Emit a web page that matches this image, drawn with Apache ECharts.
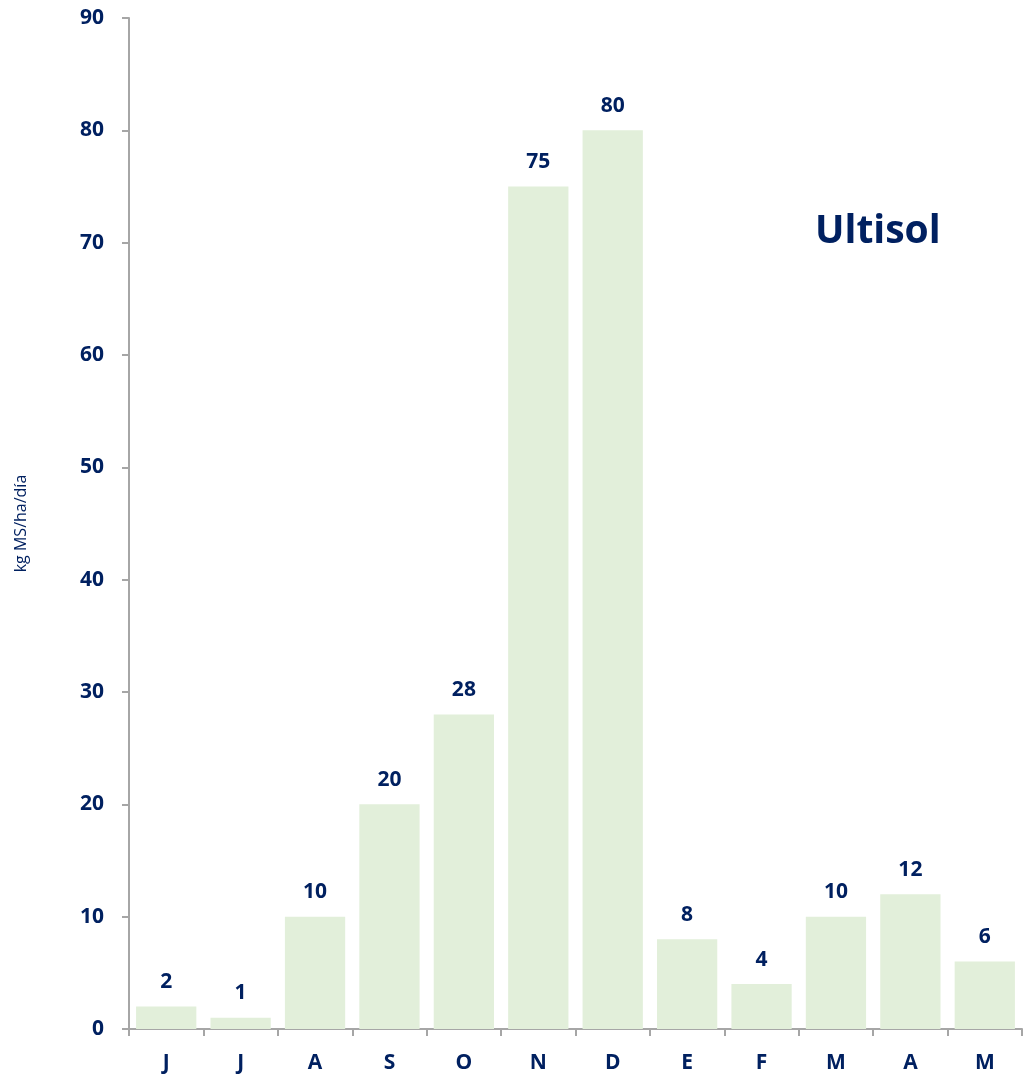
<!DOCTYPE html>
<html>
<head>
<meta charset="utf-8">
<script src="https://cdn.jsdelivr.net/npm/echarts@6/dist/echarts.min.js"></script>
<style>
  html, body { margin: 0; padding: 0; background: #fff; }
  #main { width: 1025px; height: 1081px; }
</style>
</head>
<body>
<div id="main"></div>
<script>
var months = ['J', 'J', 'A', 'S', 'O', 'N', 'D', 'E', 'F', 'M', 'A', 'M'];
var growth = [2, 1, 10, 20, 28, 75, 80, 8, 4, 10, 12, 6];
var yTicks = [0, 90, 10];   // min, max, step

var navy = '#002060';
var fontFam = '"Open Sans", "Noto Sans", sans-serif';

var myChart = echarts.init(document.getElementById('main'));
myChart.setOption({
    animation: false,
    title: {
        text: 'Ultisol',
        left: 810,
        top: 207,
        textStyle: { color: navy, fontSize: 39, fontWeight: 'bold', fontFamily: fontFam }
    },
    grid: { left: 129, right: 3, top: 18, bottom: 52 },
    xAxis: {
        type: 'category',
        data: months,
        axisLine: { lineStyle: { color: '#a6a6a6', width: 2 } },
        axisTick: { show: true, length: 7, alignWithLabel: false, lineStyle: { color: '#a6a6a6', width: 2 } },
        axisLabel: { color: navy, fontSize: 21, fontWeight: 'bold', fontFamily: fontFam, margin: 24 }
    },
    yAxis: {
        type: 'value',
        min: yTicks[0],
        max: yTicks[1],
        interval: yTicks[2],
        name: 'kg MS/ha/día',
        nameLocation: 'middle',
        nameGap: 100,
        nameTextStyle: { color: navy, fontSize: 16, fontFamily: fontFam },
        splitLine: { show: false },
        axisLine: { show: true, lineStyle: { color: '#a6a6a6', width: 2 } },
        axisTick: { show: true, length: 7, lineStyle: { color: '#a6a6a6', width: 2 } },
        axisLabel: { color: navy, fontSize: 21, fontWeight: 'bold', fontFamily: fontFam, margin: 25 }
    },
    series: [{
        type: 'bar',
        data: growth,
        barCategoryGap: '19%',
        itemStyle: { color: '#e2efda' },
        label: {
            show: true,
            position: 'top',
            distance: 14,
            color: navy,
            fontSize: 21,
            fontWeight: 'bold',
            fontFamily: fontFam
        }
    }]
});
</script>
</body>
</html>
